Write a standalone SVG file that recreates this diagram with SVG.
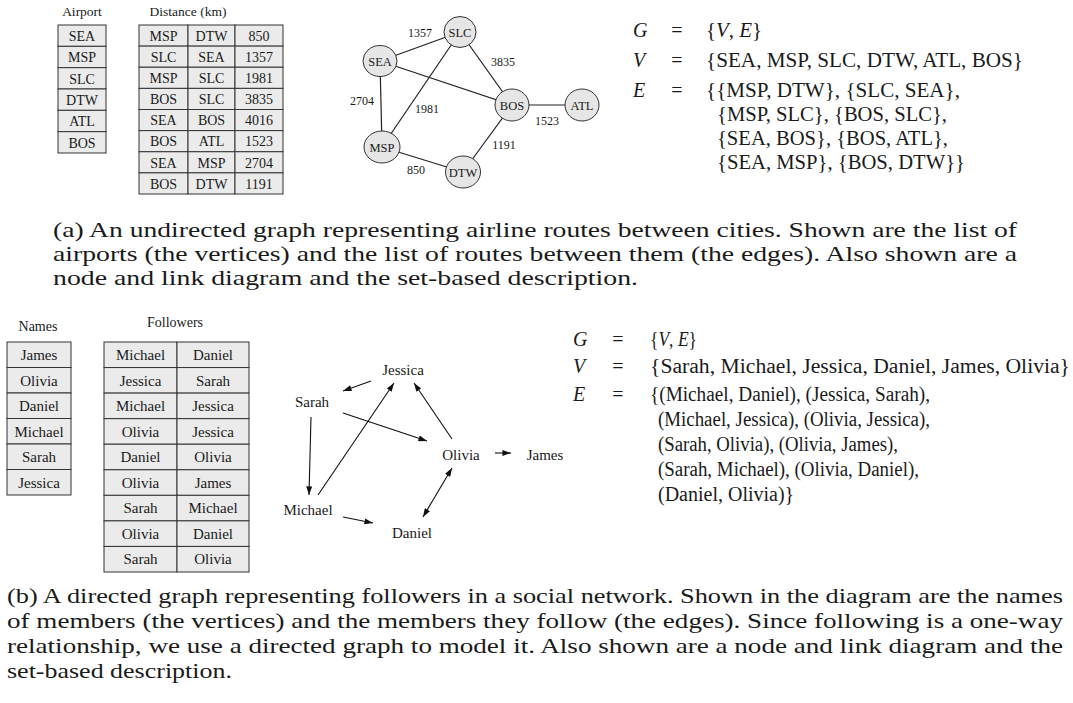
<svg xmlns="http://www.w3.org/2000/svg" width="1073" height="703" viewBox="0 0 1073 703">
<style>
.bg{fill:#ffffff}
.cell{fill:#ebebeb;stroke:#333333;stroke-width:1}
.tt{font-family:"Liberation Serif",serif;font-size:14px;fill:#1a1a1a;text-anchor:middle}
.tb{font-family:"Liberation Serif",serif;font-size:15px;fill:#1a1a1a;text-anchor:middle}
.hd{font-family:"Liberation Serif",serif;font-size:13.5px;fill:#1a1a1a;text-anchor:middle}
.hdb{font-family:"Liberation Serif",serif;font-size:14px;fill:#1a1a1a;text-anchor:middle}
.nd{fill:#e6e6e6;stroke:#333333;stroke-width:1}
.nl{font-family:"Liberation Serif",serif;font-size:12.5px;fill:#1a1a1a;text-anchor:middle}
.el{font-family:"Liberation Serif",serif;font-size:12px;fill:#1a1a1a;text-anchor:middle}
.edge{stroke:#222222;stroke-width:1.2;fill:none}
.arc{stroke:#111111;stroke-width:1.1;fill:none;marker-end:url(#ah)}
.dl{font-family:"Liberation Serif",serif;font-size:15px;fill:#1a1a1a;text-anchor:middle}
.m{font-family:"Liberation Serif",serif;font-size:20px;fill:#1a1a1a}
.i{font-style:italic}
.eq{font-family:"Liberation Serif",serif;font-size:20px;fill:#1a1a1a;text-anchor:middle}
.cap{font-family:"Liberation Serif",serif;font-size:21px;fill:#1a1a1a}
</style>
<defs>
<marker id="ah" viewBox="0 0 10 7" refX="10" refY="3.5" markerWidth="9" markerHeight="6" markerUnits="userSpaceOnUse" orient="auto-start-reverse"><path d="M0,0 L10,3.5 L0,7 z" fill="#111111"/></marker>
</defs>
<rect class="bg" x="0" y="0" width="1073" height="703"/>

<!-- Part (a) tables -->
<g id="airport-table">
<text class="hd" x="82" y="16">Airport</text>
<rect class="cell" x="58" y="25" width="48" height="21.33"/>
<rect class="cell" x="58" y="46.33" width="48" height="21.33"/>
<rect class="cell" x="58" y="67.67" width="48" height="21.33"/>
<rect class="cell" x="58" y="89" width="48" height="21.33"/>
<rect class="cell" x="58" y="110.33" width="48" height="21.33"/>
<rect class="cell" x="58" y="131.67" width="48" height="21.33"/>
<text class="tt" x="82" y="40.8">SEA</text>
<text class="tt" x="82" y="62.1">MSP</text>
<text class="tt" x="82" y="83.5">SLC</text>
<text class="tt" x="82" y="104.8">DTW</text>
<text class="tt" x="82" y="126.1">ATL</text>
<text class="tt" x="82" y="147.5">BOS</text>
</g>

<g id="distance-table">
<text class="hd" x="188" y="16">Distance (km)</text>
<g>
<rect class="cell" x="139" y="25" width="49" height="21.13"/><rect class="cell" x="188" y="25" width="47" height="21.13"/><rect class="cell" x="235" y="25" width="48" height="21.13"/>
<rect class="cell" x="139" y="46.13" width="49" height="21.12"/><rect class="cell" x="188" y="46.13" width="47" height="21.12"/><rect class="cell" x="235" y="46.13" width="48" height="21.12"/>
<rect class="cell" x="139" y="67.25" width="49" height="21.13"/><rect class="cell" x="188" y="67.25" width="47" height="21.13"/><rect class="cell" x="235" y="67.25" width="48" height="21.13"/>
<rect class="cell" x="139" y="88.38" width="49" height="21.12"/><rect class="cell" x="188" y="88.38" width="47" height="21.12"/><rect class="cell" x="235" y="88.38" width="48" height="21.12"/>
<rect class="cell" x="139" y="109.5" width="49" height="21.13"/><rect class="cell" x="188" y="109.5" width="47" height="21.13"/><rect class="cell" x="235" y="109.5" width="48" height="21.13"/>
<rect class="cell" x="139" y="130.63" width="49" height="21.12"/><rect class="cell" x="188" y="130.63" width="47" height="21.12"/><rect class="cell" x="235" y="130.63" width="48" height="21.12"/>
<rect class="cell" x="139" y="151.75" width="49" height="21.13"/><rect class="cell" x="188" y="151.75" width="47" height="21.13"/><rect class="cell" x="235" y="151.75" width="48" height="21.13"/>
<rect class="cell" x="139" y="172.88" width="49" height="21.12"/><rect class="cell" x="188" y="172.88" width="47" height="21.12"/><rect class="cell" x="235" y="172.88" width="48" height="21.12"/>
</g>
<text class="tt" x="163.5" y="40.8">MSP</text><text class="tt" x="211.5" y="40.8">DTW</text><text class="tt" x="259" y="40.8">850</text>
<text class="tt" x="163.5" y="61.9">SLC</text><text class="tt" x="211.5" y="61.9">SEA</text><text class="tt" x="259" y="61.9">1357</text>
<text class="tt" x="163.5" y="83">MSP</text><text class="tt" x="211.5" y="83">SLC</text><text class="tt" x="259" y="83">1981</text>
<text class="tt" x="163.5" y="104.2">BOS</text><text class="tt" x="211.5" y="104.2">SLC</text><text class="tt" x="259" y="104.2">3835</text>
<text class="tt" x="163.5" y="125.3">SEA</text><text class="tt" x="211.5" y="125.3">BOS</text><text class="tt" x="259" y="125.3">4016</text>
<text class="tt" x="163.5" y="146.4">BOS</text><text class="tt" x="211.5" y="146.4">ATL</text><text class="tt" x="259" y="146.4">1523</text>
<text class="tt" x="163.5" y="167.5">SEA</text><text class="tt" x="211.5" y="167.5">MSP</text><text class="tt" x="259" y="167.5">2704</text>
<text class="tt" x="163.5" y="188.7">BOS</text><text class="tt" x="211.5" y="188.7">DTW</text><text class="tt" x="259" y="188.7">1191</text>
</g>

<!-- Part (a) graph connectors -->
<g id="edges-a">
<line class="edge" x1="380" y1="61" x2="460" y2="32"/>
<line class="edge" x1="380" y1="61" x2="512" y2="105"/>
<line class="edge" x1="380" y1="61" x2="382" y2="147"/>
<line class="edge" x1="460" y1="32" x2="382" y2="147"/>
<line class="edge" x1="460" y1="32" x2="512" y2="105"/>
<line class="edge" x1="512" y1="105" x2="582" y2="105"/>
<line class="edge" x1="512" y1="105" x2="463" y2="172"/>
<line class="edge" x1="382" y1="147" x2="463" y2="172"/>
<text class="el" x="420" y="37">1357</text>
<text class="el" x="503" y="66">3835</text>
<text class="el" x="362" y="105">2704</text>
<text class="el" x="427" y="113">1981</text>
<text class="el" x="547" y="125">1523</text>
<text class="el" x="504" y="149">1191</text>
<text class="el" x="416" y="174">850</text>
</g>
<g id="node-SLC"><ellipse class="nd" cx="460" cy="32" rx="16" ry="15.5"/><text class="nl" x="460" y="36.5">SLC</text></g>
<g id="node-SEA"><ellipse class="nd" cx="380" cy="61" rx="17" ry="15.5"/><text class="nl" x="380" y="65.5">SEA</text></g>
<g id="node-BOS"><ellipse class="nd" cx="512" cy="105" rx="17" ry="16"/><text class="nl" x="512" y="109.5">BOS</text></g>
<g id="node-ATL"><ellipse class="nd" cx="582" cy="105" rx="17" ry="16"/><text class="nl" x="582" y="109.5">ATL</text></g>
<g id="node-MSP"><ellipse class="nd" cx="382" cy="147" rx="18" ry="16"/><text class="nl" x="382" y="151.5">MSP</text></g>
<g id="node-DTW"><ellipse class="nd" cx="463" cy="172" rx="17.5" ry="16"/><text class="nl" x="463" y="176.5">DTW</text></g>

<!-- Part (a) set description -->
<g id="set-a">
<text class="m i" x="633" y="37">G</text><text class="eq" x="677" y="37">=</text>
<text class="m" x="706" y="37" textLength="56" lengthAdjust="spacingAndGlyphs">{<tspan class="i">V</tspan>, <tspan class="i">E</tspan>}</text>
<text class="m i" x="633" y="67">V</text><text class="eq" x="677" y="67">=</text>
<text class="m" x="706" y="67" textLength="317" lengthAdjust="spacingAndGlyphs">{SEA, MSP, SLC, DTW, ATL, BOS}</text>
<text class="m i" x="633" y="97">E</text><text class="eq" x="677" y="97">=</text>
<text class="m" x="706" y="97" textLength="254" lengthAdjust="spacingAndGlyphs">{{MSP, DTW}, {SLC, SEA},</text>
<text class="m" x="717" y="121" textLength="230" lengthAdjust="spacingAndGlyphs">{MSP, SLC}, {BOS, SLC},</text>
<text class="m" x="717" y="145" textLength="231" lengthAdjust="spacingAndGlyphs">{SEA, BOS}, {BOS, ATL},</text>
<text class="m" x="717" y="169" textLength="248" lengthAdjust="spacingAndGlyphs">{SEA, MSP}, {BOS, DTW}}</text>
</g>

<!-- Caption (a) -->
<g id="caption-a">
<text class="cap" x="53" y="237" textLength="964" lengthAdjust="spacingAndGlyphs">(a) An undirected graph representing airline routes between cities. Shown are the list of</text>
<text class="cap" x="53" y="261" textLength="964" lengthAdjust="spacingAndGlyphs">airports (the vertices) and the list of routes between them (the edges). Also shown are a</text>
<text class="cap" x="53" y="285" textLength="585" lengthAdjust="spacingAndGlyphs">node and link diagram and the set-based description.</text>
</g>

<!-- Part (b) tables -->
<g id="names-table">
<text class="hdb" x="38" y="331">Names</text>
<rect class="cell" x="7" y="342" width="64" height="25.5"/>
<rect class="cell" x="7" y="367.5" width="64" height="25.5"/>
<rect class="cell" x="7" y="393" width="64" height="25.5"/>
<rect class="cell" x="7" y="418.5" width="64" height="25.5"/>
<rect class="cell" x="7" y="444" width="64" height="25.5"/>
<rect class="cell" x="7" y="469.5" width="64" height="25.5"/>
<text class="tb" x="39" y="360">James</text>
<text class="tb" x="39" y="385.5">Olivia</text>
<text class="tb" x="39" y="411">Daniel</text>
<text class="tb" x="39" y="436.5">Michael</text>
<text class="tb" x="39" y="462">Sarah</text>
<text class="tb" x="39" y="487.5">Jessica</text>
</g>

<g id="followers-table">
<text class="hdb" x="175" y="327">Followers</text>
<g>
<rect class="cell" x="104" y="342" width="73" height="25.56"/><rect class="cell" x="177" y="342" width="72" height="25.56"/>
<rect class="cell" x="104" y="367.56" width="73" height="25.56"/><rect class="cell" x="177" y="367.56" width="72" height="25.56"/>
<rect class="cell" x="104" y="393.11" width="73" height="25.56"/><rect class="cell" x="177" y="393.11" width="72" height="25.56"/>
<rect class="cell" x="104" y="418.67" width="73" height="25.56"/><rect class="cell" x="177" y="418.67" width="72" height="25.56"/>
<rect class="cell" x="104" y="444.22" width="73" height="25.56"/><rect class="cell" x="177" y="444.22" width="72" height="25.56"/>
<rect class="cell" x="104" y="469.78" width="73" height="25.56"/><rect class="cell" x="177" y="469.78" width="72" height="25.56"/>
<rect class="cell" x="104" y="495.33" width="73" height="25.56"/><rect class="cell" x="177" y="495.33" width="72" height="25.56"/>
<rect class="cell" x="104" y="520.89" width="73" height="25.56"/><rect class="cell" x="177" y="520.89" width="72" height="25.56"/>
<rect class="cell" x="104" y="546.44" width="73" height="25.56"/><rect class="cell" x="177" y="546.44" width="72" height="25.56"/>
</g>
<text class="tb" x="140.5" y="360">Michael</text><text class="tb" x="213" y="360">Daniel</text>
<text class="tb" x="140.5" y="385.6">Jessica</text><text class="tb" x="213" y="385.6">Sarah</text>
<text class="tb" x="140.5" y="411.1">Michael</text><text class="tb" x="213" y="411.1">Jessica</text>
<text class="tb" x="140.5" y="436.7">Olivia</text><text class="tb" x="213" y="436.7">Jessica</text>
<text class="tb" x="140.5" y="462.2">Daniel</text><text class="tb" x="213" y="462.2">Olivia</text>
<text class="tb" x="140.5" y="487.8">Olivia</text><text class="tb" x="213" y="487.8">James</text>
<text class="tb" x="140.5" y="513.3">Sarah</text><text class="tb" x="213" y="513.3">Michael</text>
<text class="tb" x="140.5" y="538.9">Olivia</text><text class="tb" x="213" y="538.9">Daniel</text>
<text class="tb" x="140.5" y="564.4">Sarah</text><text class="tb" x="213" y="564.4">Olivia</text>
</g>

<!-- Part (b) directed graph connectors -->
<g id="edges-b">
<line class="arc" x1="371" y1="381" x2="343" y2="391"/>
<line class="arc" x1="311" y1="417" x2="309" y2="495"/>
<line class="arc" x1="318" y1="495" x2="394" y2="383"/>
<line class="arc" x1="343" y1="413" x2="427" y2="441"/>
<line class="arc" x1="452" y1="439" x2="414" y2="383"/>
<line class="arc" x1="495" y1="453" x2="511" y2="453"/>
<line class="arc" x1="452" y1="468" x2="423" y2="517" style="marker-start:url(#ah)"/>
<line class="arc" x1="343" y1="517" x2="373" y2="523"/>
</g>
<g id="node-Jessica"><text class="dl" x="403" y="375">Jessica</text></g>
<g id="node-Sarah"><text class="dl" x="312" y="407">Sarah</text></g>
<g id="node-Olivia"><text class="dl" x="461" y="460">Olivia</text></g>
<g id="node-James"><text class="dl" x="545" y="460">James</text></g>
<g id="node-Michael"><text class="dl" x="308" y="515">Michael</text></g>
<g id="node-Daniel"><text class="dl" x="412" y="538">Daniel</text></g>

<!-- Part (b) set description -->
<g id="set-b">
<text class="m i" x="573" y="346">G</text><text class="eq" x="618" y="346">=</text>
<text class="m" x="650" y="346" textLength="47" lengthAdjust="spacingAndGlyphs">{<tspan class="i">V</tspan>, <tspan class="i">E</tspan>}</text>
<text class="m i" x="573" y="373">V</text><text class="eq" x="618" y="373">=</text>
<text class="m" x="650" y="373" textLength="420" lengthAdjust="spacingAndGlyphs">{Sarah, Michael, Jessica, Daniel, James, Olivia}</text>
<text class="m i" x="573" y="401">E</text><text class="eq" x="618" y="401">=</text>
<text class="m" x="650" y="401" textLength="280" lengthAdjust="spacingAndGlyphs">{(Michael, Daniel), (Jessica, Sarah),</text>
<text class="m" x="658" y="426" textLength="272" lengthAdjust="spacingAndGlyphs">(Michael, Jessica), (Olivia, Jessica),</text>
<text class="m" x="658" y="451" textLength="240" lengthAdjust="spacingAndGlyphs">(Sarah, Olivia), (Olivia, James),</text>
<text class="m" x="658" y="476" textLength="261" lengthAdjust="spacingAndGlyphs">(Sarah, Michael), (Olivia, Daniel),</text>
<text class="m" x="658" y="501">(Daniel, Olivia)}</text>
</g>

<!-- Caption (b) -->
<g id="caption-b">
<text class="cap" x="7" y="603" textLength="1056" lengthAdjust="spacingAndGlyphs">(b) A directed graph representing followers in a social network. Shown in the diagram are the names</text>
<text class="cap" x="7" y="628" textLength="1056" lengthAdjust="spacingAndGlyphs">of members (the vertices) and the members they follow (the edges). Since following is a one-way</text>
<text class="cap" x="7" y="653" textLength="1056" lengthAdjust="spacingAndGlyphs">relationship, we use a directed graph to model it. Also shown are a node and link diagram and the</text>
<text class="cap" x="7" y="678" textLength="225" lengthAdjust="spacingAndGlyphs">set-based description.</text>
</g>
</svg>
